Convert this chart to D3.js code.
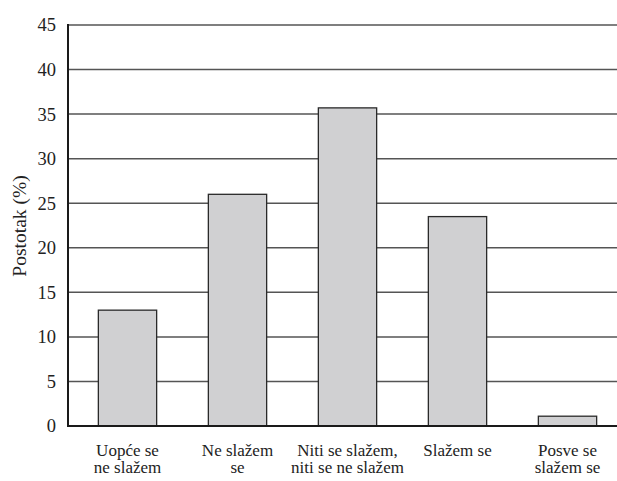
<!DOCTYPE html>
<html>
<head>
<meta charset="utf-8">
<script src="https://cdn.jsdelivr.net/npm/d3@7"></script>
<style>
  html, body { margin: 0; padding: 0; background: #fff; }
  svg { display: block; }
  svg text { font-family: "Liberation Serif", "DejaVu Serif", serif; fill: #222; }
</style>
</head>
<body>
<svg id="chart" width="617" height="481"></svg>
<script>
const categories = [
  ["Uopće se", "ne slažem"],
  ["Ne slažem", "se"],
  ["Niti se slažem,", "niti se ne slažem"],
  ["Slažem se"],
  ["Posve se", "slažem se"]
];
const values = [13.0, 26.0, 35.7, 23.5, 1.1];
const yTicks = [0, 5, 10, 15, 20, 25, 30, 35, 40, 45];
const yTitle = "Postotak (%)";

const FONT = '"Liberation Serif", "DejaVu Serif", serif';
const svg = d3.select("#chart");
const mLeft = 68, mRight = 617, mTop = 25, mBottom = 426;

const y = d3.scaleLinear().domain([0, 45]).range([mBottom, mTop]);
const x = d3.scaleBand()
  .domain(d3.range(values.length))
  .range([72.5, 622.5])
  .paddingInner(0.47)
  .paddingOuter(0.235);

// gridlines
svg.append("g")
  .selectAll("line")
  .data(yTicks.filter(d => d > 0))
  .join("line")
  .attr("x1", mLeft).attr("x2", mRight)
  .attr("y1", d => y(d)).attr("y2", d => y(d))
  .attr("stroke", "#555").attr("stroke-width", 1.5);

// bars
svg.append("g")
  .selectAll("rect")
  .data(values)
  .join("rect")
  .attr("x", (d, i) => x(i))
  .attr("y", d => y(d))
  .attr("width", x.bandwidth())
  .attr("height", d => mBottom - y(d))
  .attr("fill", "#d0d0d2")
  .attr("stroke", "#2a2a2a")
  .attr("stroke-width", 1.3);

// y axis
const yAxis = d3.axisLeft(y).tickValues(yTicks).tickSize(0).tickPadding(12);
const ga = svg.append("g").attr("transform", `translate(${mLeft},0)`).call(yAxis);
ga.attr("font-family", FONT).attr("font-size", 18.5);
ga.select(".domain").remove();
ga.selectAll("text").attr("fill", "#222");

// axis lines
svg.append("line").attr("x1", mLeft).attr("x2", mLeft).attr("y1", mTop - 1).attr("y2", mBottom + 1)
  .attr("stroke", "#1a1a1a").attr("stroke-width", 2);
svg.append("line").attr("x1", mLeft - 1).attr("x2", mRight).attr("y1", mBottom).attr("y2", mBottom)
  .attr("stroke", "#1a1a1a").attr("stroke-width", 2);

// category labels
const cl = svg.append("g").selectAll("text")
  .data(categories)
  .join("text")
  .attr("text-anchor", "middle")
  .attr("font-family", FONT)
  .attr("font-size", 17)
  .attr("transform", (d, i) => `translate(${x(i) + x.bandwidth() / 2},456)`);
cl.selectAll("tspan")
  .data(d => d)
  .join("tspan")
  .attr("x", 0)
  .attr("dy", (d, i) => i === 0 ? 0 : 17)
  .text(d => d);

// y title
svg.append("text")
  .attr("transform", "translate(26,226) rotate(-90)")
  .attr("text-anchor", "middle")
  .attr("font-family", FONT)
  .attr("font-size", 19.5)
  .text(yTitle);
</script>
</body>
</html>
